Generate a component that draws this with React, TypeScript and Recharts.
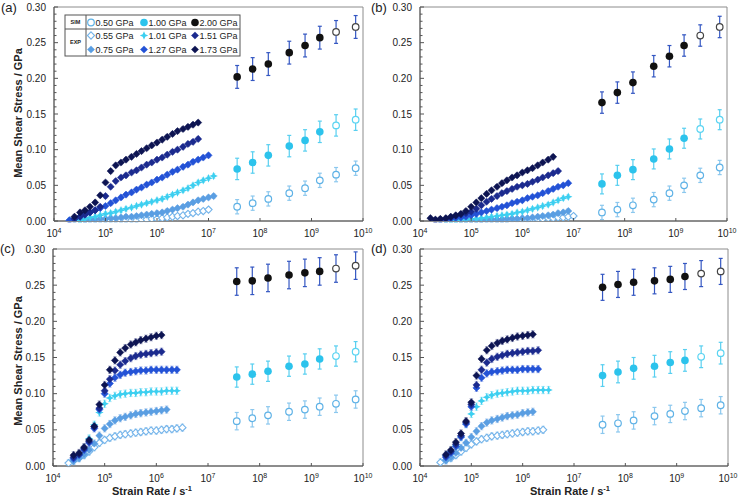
import { ScatterChart, Scatter, XAxis, YAxis, ErrorBar, ReferenceArea } from "recharts";

const FONT = '"Liberation Sans", Arial, Helvetica, sans-serif';
const INK = "#222";
const AXIS = "#555";

const X_TICKS = [1e4, 1e5, 1e6, 1e7, 1e8, 1e9, 1e10];
const Y_TICKS = [0, 0.05, 0.1, 0.15, 0.2, 0.25, 0.3];
const Y_MINOR = Array.from({ length: 31 }, (_, i) => i / 100);

// MD strain rates (SIM)
const SIM_RATES = [3.6e7, 7.2e7, 1.45e8, 3.7e8, 7.5e8, 1.45e9, 3.0e9, 7.2e9];
// strain rates of the experimental sweeps (EXP)
const EXP_RATES = [
  1.6e4, 2.0e4, 2.5e4, 3.2e4, 4.0e4, 5.0e4, 6.3e4, 7.9e4,
  1.0e5, 1.26e5, 1.58e5, 2.0e5, 2.5e5, 3.2e5, 4.0e5, 5.0e5, 6.3e5, 7.9e5,
  1.0e6, 1.26e6, 1.58e6, 2.0e6, 2.5e6, 3.2e6, 4.0e6, 5.0e6, 6.3e6, 7.9e6,
  1.0e7, 1.26e7,
];

const SIM_LABELS = ["0.50 GPa", "1.00 GPa", "2.00 GPa"];
const EXP_LABELS = ["0.55 GPa", "0.75 GPa", "1.01 GPa", "1.27 GPa", "1.51 GPa", "1.73 GPa"];

// ---- (a)
const A_S050 = [0.020, 0.025, 0.031, 0.039, 0.046, 0.057, 0.065, 0.074];
const A_S100 = [0.073, 0.082, 0.092, 0.105, 0.113, 0.125, 0.134, 0.142];
const A_S200 = [0.202, 0.213, 0.220, 0.236, 0.246, 0.257, 0.265, 0.272];
const A_SIM_ERR = [0.010, 0.015, 0.016];
const A_E055 = [0.001, 0.001, 0.001, 0.001, 0.001, 0.001, 0.001, 0.001, 0.001, 0.001, 0.001, 0.001, 0.002, 0.002, 0.003, 0.003, 0.004, 0.005, 0.006, 0.007, 0.008, 0.010, 0.011, 0.013, 0.014, 0.016];
const A_E075 = [0.001, 0.001, 0.001, 0.001, 0.002, 0.002, 0.003, 0.003, 0.004, 0.004, 0.005, 0.006, 0.006, 0.007, 0.008, 0.009, 0.010, 0.011, 0.012, 0.014, 0.016, 0.018, 0.020, 0.023, 0.026, 0.029, 0.031, 0.033, 0.035];
const A_E101 = [0.001, 0.003, 0.005, 0.006, 0.008, 0.010, 0.011, 0.013, 0.015, 0.017, 0.019, 0.021, 0.023, 0.025, 0.027, 0.029, 0.031, 0.034, 0.037, 0.040, 0.043, 0.046, 0.050, 0.054, 0.057, 0.060, 0.063];
const A_E127 = [0.001, 0.003, 0.006, 0.009, 0.012, 0.015, 0.018, 0.021, 0.025, 0.029, 0.033, 0.037, 0.040, 0.044, 0.047, 0.051, 0.054, 0.058, 0.061, 0.065, 0.069, 0.072, 0.076, 0.079, 0.083, 0.086, 0.089, 0.092];
const A_E151 = [0.003, 0.006, 0.009, 0.012, 0.015, 0.020, 0.035, 0.048, 0.056, 0.061, 0.064, 0.068, 0.071, 0.075, 0.079, 0.082, 0.086, 0.089, 0.093, 0.097, 0.100, 0.104, 0.108, 0.111, 0.115];
const A_E173 = [0.006, 0.012, 0.015, 0.020, 0.026, 0.036, 0.054, 0.070, 0.078, 0.082, 0.086, 0.090, 0.094, 0.098, 0.102, 0.106, 0.110, 0.114, 0.118, 0.122, 0.126, 0.129, 0.132, 0.135, 0.138];
const A_FROM = [3, 1, 3, 1, 2, 2];

// ---- (b)
const B_S050 = [0.012, 0.016, 0.022, 0.030, 0.039, 0.050, 0.064, 0.075];
const B_S100 = [0.052, 0.064, 0.072, 0.087, 0.101, 0.116, 0.129, 0.142];
const B_S200 = [0.166, 0.180, 0.194, 0.217, 0.231, 0.246, 0.260, 0.272];
const B_SIM_ERR = [0.010, 0.014, 0.015];
const B_E055 = [0.001, 0.001, 0.001, 0.001, 0.001, 0.001, 0.001, 0.001, 0.001, 0.001, 0.001, 0.001, 0.001, 0.002, 0.002, 0.002, 0.002, 0.003, 0.003, 0.003, 0.004, 0.004, 0.005, 0.005, 0.006, 0.007];
const B_E075 = [0.001, 0.001, 0.001, 0.001, 0.001, 0.001, 0.001, 0.001, 0.002, 0.002, 0.002, 0.002, 0.003, 0.003, 0.003, 0.004, 0.004, 0.005, 0.006, 0.007, 0.008, 0.009, 0.011, 0.012, 0.014];
const B_E101 = [0.001, 0.001, 0.001, 0.001, 0.002, 0.002, 0.003, 0.003, 0.004, 0.005, 0.006, 0.007, 0.008, 0.009, 0.010, 0.012, 0.013, 0.015, 0.017, 0.019, 0.021, 0.023, 0.026, 0.029, 0.032, 0.034];
const B_E127 = [0.001, 0.001, 0.002, 0.003, 0.004, 0.005, 0.006, 0.008, 0.010, 0.012, 0.014, 0.016, 0.018, 0.020, 0.022, 0.025, 0.027, 0.029, 0.032, 0.034, 0.036, 0.039, 0.042, 0.045, 0.048, 0.050, 0.053];
const B_E151 = [0.001, 0.002, 0.003, 0.005, 0.007, 0.009, 0.011, 0.013, 0.017, 0.022, 0.027, 0.031, 0.035, 0.039, 0.042, 0.045, 0.048, 0.050, 0.052, 0.055, 0.058, 0.061, 0.064, 0.067, 0.070];
const B_E173 = [0.004, 0.002, 0.003, 0.004, 0.006, 0.008, 0.010, 0.014, 0.020, 0.026, 0.032, 0.038, 0.043, 0.048, 0.053, 0.057, 0.061, 0.064, 0.068, 0.071, 0.074, 0.078, 0.082, 0.086, 0.090];
const B_FROM = [3, 3, 2, 1, 1, 0];

// ---- (c)
const C_S050 = [0.062, 0.066, 0.070, 0.075, 0.078, 0.082, 0.086, 0.092];
const C_S100 = [0.123, 0.127, 0.131, 0.138, 0.141, 0.148, 0.152, 0.158];
const C_S200 = [0.255, 0.256, 0.260, 0.264, 0.267, 0.269, 0.273, 0.277];
const C_SIM_ERR = [0.012, 0.014, 0.019];
const C_E055 = [0.004, 0.007, 0.011, 0.015, 0.020, 0.026, 0.032, 0.036, 0.039, 0.041, 0.043, 0.044, 0.045, 0.046, 0.047, 0.048, 0.049, 0.049, 0.050, 0.051, 0.051, 0.052, 0.053];
const C_E075 = [0.007, 0.011, 0.016, 0.022, 0.031, 0.042, 0.052, 0.058, 0.063, 0.066, 0.068, 0.070, 0.072, 0.073, 0.074, 0.075, 0.076, 0.077, 0.078];
const C_E101 = [0.016, 0.025, 0.038, 0.057, 0.074, 0.086, 0.094, 0.097, 0.099, 0.100, 0.101, 0.101, 0.102, 0.102, 0.103, 0.103, 0.103, 0.104, 0.104, 0.104];
const C_E127 = [0.010, 0.015, 0.022, 0.032, 0.052, 0.078, 0.100, 0.114, 0.122, 0.126, 0.129, 0.130, 0.131, 0.132, 0.132, 0.133, 0.133, 0.133, 0.133, 0.133, 0.133];
const C_E151 = [0.012, 0.016, 0.024, 0.034, 0.054, 0.080, 0.104, 0.120, 0.132, 0.140, 0.145, 0.149, 0.152, 0.154, 0.155, 0.156, 0.157, 0.158];
const C_E173 = [0.015, 0.018, 0.026, 0.036, 0.055, 0.085, 0.112, 0.133, 0.146, 0.157, 0.163, 0.168, 0.171, 0.174, 0.176, 0.178, 0.180, 0.181];
const C_FROM = [1, 2, 3, 2, 2, 2];

// ---- (d)
const D_S050 = [0.057, 0.059, 0.063, 0.069, 0.072, 0.076, 0.080, 0.084];
const D_S100 = [0.125, 0.130, 0.135, 0.138, 0.143, 0.146, 0.151, 0.156];
const D_S200 = [0.247, 0.251, 0.254, 0.256, 0.258, 0.262, 0.266, 0.269];
const D_SIM_ERR = [0.012, 0.015, 0.018];
const D_E055 = [0.005, 0.008, 0.011, 0.015, 0.020, 0.025, 0.030, 0.034, 0.037, 0.039, 0.041, 0.042, 0.043, 0.044, 0.045, 0.046, 0.047, 0.048, 0.048, 0.049, 0.050];
const D_E075 = [0.008, 0.012, 0.018, 0.025, 0.032, 0.040, 0.048, 0.055, 0.060, 0.063, 0.065, 0.067, 0.069, 0.070, 0.071, 0.073, 0.074, 0.075];
const D_E101 = [0.014, 0.020, 0.028, 0.040, 0.058, 0.072, 0.082, 0.090, 0.095, 0.098, 0.100, 0.101, 0.102, 0.103, 0.104, 0.104, 0.104, 0.105, 0.105, 0.105, 0.105];
const D_E127 = [0.012, 0.018, 0.027, 0.040, 0.058, 0.082, 0.108, 0.122, 0.128, 0.130, 0.131, 0.132, 0.133, 0.133, 0.133, 0.134, 0.134, 0.134, 0.134];
const D_E151 = [0.014, 0.020, 0.030, 0.042, 0.060, 0.085, 0.112, 0.133, 0.143, 0.148, 0.151, 0.153, 0.155, 0.156, 0.157, 0.158, 0.159, 0.159, 0.160];
const D_E173 = [0.016, 0.022, 0.033, 0.045, 0.062, 0.088, 0.125, 0.148, 0.160, 0.166, 0.170, 0.173, 0.175, 0.177, 0.179, 0.180, 0.181, 0.182];
const D_FROM = [2, 3, 3, 3, 3, 3];

type Kind = "circleOpen" | "circle" | "diamondOpen" | "diamond" | "star";
interface Style { kind: Kind; color: string; hollow: string; err: string }

const SIM_STYLE: Style[] = [
  { kind: "circleOpen", color: "#5fb2e6", hollow: "#5fb2e6", err: "#8cc8ee" },
  { kind: "circle", color: "#2cc3ec", hollow: "#5ad4f2", err: "#58cff0" },
  { kind: "circle", color: "#111111", hollow: "#444444", err: "#3457c2" },
];
const EXP_STYLE: Style[] = [
  { kind: "diamondOpen", color: "#74b4ea", hollow: "#74b4ea", err: "#b6d8f4" },
  { kind: "diamond", color: "#5a9ee2", hollow: "#5a9ee2", err: "#a6c8ee" },
  { kind: "star", color: "#3ccff0", hollow: "#3ccff0", err: "#98e4f6" },
  { kind: "diamond", color: "#2352d6", hollow: "#2352d6", err: "#92a8ea" },
  { kind: "diamond", color: "#1b2a8e", hollow: "#1b2a8e", err: "#9ca6d6" },
  { kind: "diamond", color: "#0d1452", hollow: "#0d1452", err: "#959ac0" },
];

function Mark({ kind, cx, cy, color, hollow }: { kind: Kind; cx: number; cy: number; color: string; hollow?: string }) {
  if (cx == null || cy == null || isNaN(cx) || isNaN(cy)) return null;
  if (kind === "circleOpen" || (kind === "circle" && hollow)) {
    return <circle cx={cx} cy={cy} r={3.3} fill="#fff" stroke={hollow || color} strokeWidth={1.2} />;
  }
  if (kind === "circle") return <circle cx={cx} cy={cy} r={3.8} fill={color} />;
  if (kind === "diamondOpen" || kind === "diamond") {
    const d = 3.6;
    return (
      <polygon
        points={`${cx},${cy - d} ${cx + d},${cy} ${cx},${cy + d} ${cx - d},${cy}`}
        fill={kind === "diamond" ? color : "#fff"}
        stroke={color}
        strokeWidth={kind === "diamond" ? 0.5 : 1.1}
      />
    );
  }
  const a = 4.2, b = 1.3;
  return (
    <polygon
      points={`${cx},${cy - a} ${cx + b},${cy - b} ${cx + a},${cy} ${cx + b},${cy + b} ${cx},${cy + a} ${cx - b},${cy + b} ${cx - a},${cy} ${cx - b},${cy - b}`}
      fill={color}
    />
  );
}

interface Pt { x: number; y: number; e: number; open?: boolean }

const simPoints = (ys: number[], e: number): Pt[] =>
  ys.map((y, i) => ({ x: SIM_RATES[i], y, e, open: i >= 6 }));
const expPoints = (from: number, ys: number[], e: number): Pt[] =>
  ys.map((y, i) => ({ x: EXP_RATES[from + i], y, e }));

interface PanelDef {
  left: number; top: number; width: number; height: number;
  yW: number; mt: number; mr: number; mb: number;
  sim: number[][]; simErr: number[];
  exp: number[][]; from: number[]; expErr: number;
}

const PANELS: PanelDef[] = [
  { left: 0, top: 0, width: 380, height: 245, yW: 54, mt: 7, mr: 17, mb: 2,
    sim: [A_S050, A_S100, A_S200], simErr: A_SIM_ERR,
    exp: [A_E055, A_E075, A_E101, A_E127, A_E151, A_E173], from: A_FROM, expErr: 0.003 },
  { left: 371, top: 0, width: 371, height: 245, yW: 49, mt: 7, mr: 15, mb: 2,
    sim: [B_S050, B_S100, B_S200], simErr: B_SIM_ERR,
    exp: [B_E055, B_E075, B_E101, B_E127, B_E151, B_E173], from: B_FROM, expErr: 0.003 },
  { left: 0, top: 240, width: 380, height: 258, yW: 53, mt: 9, mr: 17, mb: 10,
    sim: [C_S050, C_S100, C_S200], simErr: C_SIM_ERR,
    exp: [C_E055, C_E075, C_E101, C_E127, C_E151, C_E173], from: C_FROM, expErr: 0.005 },
  { left: 371, top: 240, width: 371, height: 258, yW: 49, mt: 9, mr: 14, mb: 10,
    sim: [D_S050, D_S100, D_S200], simErr: D_SIM_ERR,
    exp: [D_E055, D_E075, D_E101, D_E127, D_E151, D_E173], from: D_FROM, expErr: 0.005 },
];

function XTick({ x, y, payload }: any) {
  const exp = Math.round(Math.log10(payload.value));
  return (
    <g>
      <line x1={x} x2={x} y1={y} y2={y - 3} stroke={AXIS} />
      <text x={x} y={y + 16} textAnchor="middle" fontSize={10} fill={INK} fontFamily={FONT}>
        10<tspan dy={-4} fontSize={7}>{exp}</tspan>
      </text>
    </g>
  );
}

function YTick({ x, y, payload }: any) {
  const v = payload.value;
  const major = Y_TICKS.some((t) => Math.abs(t - v) < 1e-6);
  return (
    <g>
      <line x1={x} x2={x + (major ? 4 : 2.5)} y1={y} y2={y} stroke={AXIS} />
      {major && (
        <text x={x - 8} y={y} dy="0.35em" textAnchor="end" fontSize={10} fill={INK} fontFamily={FONT}>
          {v.toFixed(2)}
        </text>
      )}
    </g>
  );
}

function Panel({ p }: { p: PanelDef }) {
  return (
    <div style={{ position: "absolute", left: p.left, top: p.top }}>
      <ScatterChart width={p.width} height={p.height} margin={{ top: p.mt, right: p.mr, bottom: p.mb, left: 0 }}>
        <XAxis
          type="number" dataKey="x" scale="log" domain={[1e4, 1e10]} ticks={X_TICKS}
          allowDataOverflow interval={0} height={22} tickSize={0} tickMargin={0} tickLine={false}
          axisLine={{ stroke: AXIS }} tick={(props: any) => <XTick {...props} />}
        />
        <YAxis
          type="number" dataKey="y" domain={[0, 0.3]} ticks={Y_MINOR}
          allowDataOverflow interval={0} width={p.yW} tickSize={0} tickMargin={0} tickLine={false}
          axisLine={{ stroke: AXIS }} tick={(props: any) => <YTick {...props} />}
        />
        <ReferenceArea x1={1e4} x2={1e10} y1={0} y2={0.3} fill="none" stroke="#8c8c8c" strokeWidth={1} />
        {p.exp.map((ys, i) => {
          const s = EXP_STYLE[i];
          return (
            <Scatter
              key={"e" + i}
              name={EXP_LABELS[i]}
              data={expPoints(p.from[i], ys, p.expErr)}
              isAnimationActive={false}
              shape={(sp: any) => <Mark kind={s.kind} cx={sp.cx} cy={sp.cy} color={s.color} />}
            >
              <ErrorBar dataKey="e" direction="y" width={1.8} stroke={s.err} strokeWidth={0.8} isAnimationActive={false} />
            </Scatter>
          );
        })}
        {p.sim.map((ys, i) => {
          const s = SIM_STYLE[i];
          return (
            <Scatter
              key={"s" + i}
              name={SIM_LABELS[i]}
              data={simPoints(ys, p.simErr[i])}
              isAnimationActive={false}
              shape={(sp: any) => (
                <Mark kind={s.kind} cx={sp.cx} cy={sp.cy} color={s.color} hollow={sp.payload?.open ? s.hollow : undefined} />
              )}
            >
              <ErrorBar dataKey="e" direction="y" width={2} stroke={s.err} strokeWidth={1.2} isAnimationActive={false} />
            </Scatter>
          );
        })}
      </ScatterChart>
    </div>
  );
}

// legend rows: [style, label]
const LEGEND_SIM: [Style, string][] = SIM_STYLE.map((s, i) => [s, SIM_LABELS[i]]);
const LEGEND_EXP_1: [Style, string][] = [0, 2, 4].map((i) => [EXP_STYLE[i], EXP_LABELS[i]]);
const LEGEND_EXP_2: [Style, string][] = [1, 3, 5].map((i) => [EXP_STYLE[i], EXP_LABELS[i]]);

function Legend() {
  const x0 = 65, y0 = 15, w = 175, h = 41, colW = 21, rowH = 14;
  const cols = [91, 144, 195];
  const row = (items: [Style, string][], cy: number) =>
    items.map(([s, label], i) => (
      <g key={label}>
        <Mark kind={s.kind} cx={cols[i]} cy={cy} color={s.color} />
        <text x={cols[i] + 4.5} y={cy} dy="0.35em" fontSize={9} fill={INK} fontFamily={FONT}>{label}</text>
      </g>
    ));
  return (
    <g>
      <rect x={x0} y={y0} width={w} height={h} fill="#fff" stroke="#555" strokeWidth={1} />
      <line x1={x0} x2={x0 + w} y1={y0 + rowH} y2={y0 + rowH} stroke="#555" />
      <line x1={x0 + colW} x2={x0 + colW} y1={y0} y2={y0 + h} stroke="#555" />
      <text x={x0 + colW / 2} y={y0 + rowH / 2} dy="0.35em" textAnchor="middle" fontSize={5.5} fontWeight="bold" fill={INK} fontFamily={FONT}>SIM</text>
      <text x={x0 + colW / 2} y={y0 + rowH + (h - rowH) / 2} dy="0.35em" textAnchor="middle" fontSize={5.5} fontWeight="bold" fill={INK} fontFamily={FONT}>EXP</text>
      {row(LEGEND_SIM, 22.5)}
      {row(LEGEND_EXP_1, 35.5)}
      {row(LEGEND_EXP_2, 49.5)}
    </g>
  );
}

const PANEL_TAGS: [string, number, number][] = [["(a)", 1, 12], ["(b)", 371, 12], ["(c)", 0, 253], ["(d)", 371, 253]];
const Y_TITLES: [number, number][] = [[18, 113], [18, 361]];
const X_TITLES: [number, number][] = [[152, 495], [570, 495]];

export default function App() {
  return (
    <div style={{ position: "absolute", left: 0, top: 0, width: 742, height: 498, background: "#fff", overflow: "hidden" }}>
      {PANELS.map((p, i) => <Panel key={i} p={p} />)}
      <svg width={742} height={498} style={{ position: "absolute", left: 0, top: 0, pointerEvents: "none" }}>
        <Legend />
        {PANEL_TAGS.map(([t, x, y]) => (
          <text key={t} x={x} y={y} fontSize={13} fill={INK} fontFamily={FONT}>{t}</text>
        ))}
        {Y_TITLES.map(([x, y]) => (
          <text key={y} x={x} y={y} transform={`rotate(-90 ${x} ${y})`} dy="0.35em" textAnchor="middle" fontSize={11} fontWeight="bold" fill={INK} fontFamily={FONT}>
            Mean Shear Stress / GPa
          </text>
        ))}
        {X_TITLES.map(([x, y]) => (
          <text key={x} x={x} y={y} textAnchor="middle" fontSize={11} fontWeight="bold" fill={INK} fontFamily={FONT}>
            Strain Rate / s<tspan dy={-4} fontSize={7.5}>-1</tspan>
          </text>
        ))}
      </svg>
    </div>
  );
}
